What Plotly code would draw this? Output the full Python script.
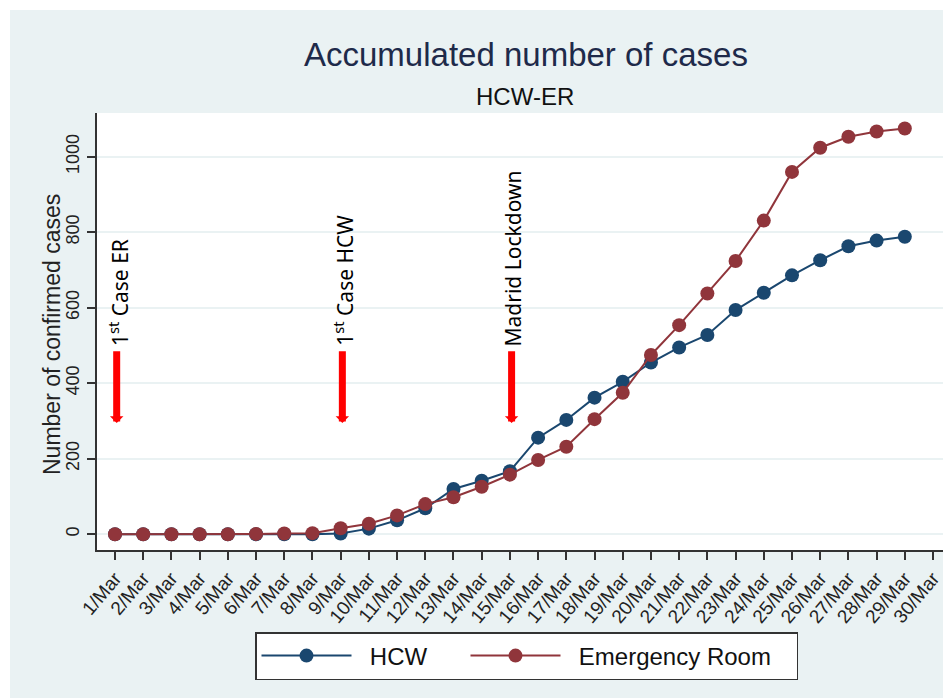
import plotly.graph_objects as go

# ---- data ----
days = list(range(1, 30))
tick_days = list(range(1, 31))
tick_labels = [f"{d}/Mar" for d in tick_days]

hcw = [0, 0, 0, 0, 0, 0, 0, 0, 2, 15, 37, 69, 120, 142, 167, 256, 303, 362,
       404, 455, 495, 528, 594, 640, 686, 726, 763, 778, 788]
er = [0, 0, 0, 0, 0, 1, 2, 3, 16, 28, 50, 80, 98, 126, 158, 197, 232, 305,
      375, 475, 554, 638, 724, 831, 960, 1024, 1053, 1067, 1075]

event_days = [1, 9, 15]
event_labels = ["1<sup>st</sup> Case ER", "1<sup>st</sup> Case HCW", "Madrid Lockdown"]
arrow_tip = 295
arrow_tail = 489
label_base = 493

y_ticks = [0, 200, 400, 600, 800, 1000]

NAVY = "#1a476f"
MAROON = "#90353b"
BG = "#EAF2F3"
NB = "&nbsp;"

# page body has an 8px margin; figure sized to fit the window
OFF = 8
W, H = 951 - OFF, 698 - OFF
ML, MR, MT, MB = 97 - OFF, 5, 113 - OFF, 148
PW = W - ML - MR
PH = H - MT - MB


def px_to_paper_x(px):
    return (px - OFF - ML) / PW


def px_to_paper_y(py):
    return (MT + PH - (py - OFF)) / PH


fig = go.Figure()
fig.add_trace(go.Scatter(
    x=days, y=hcw, mode="lines+markers", name=NB * 2 + "HCW" + NB * 5,
    line=dict(color=NAVY, width=2), marker=dict(color=NAVY, size=14)))
fig.add_trace(go.Scatter(
    x=days, y=er, mode="lines+markers", name=NB * 2 + "Emergency Room" + NB * 3,
    line=dict(color=MAROON, width=2), marker=dict(color=MAROON, size=14)))

annotations = []
for d, lab in zip(event_days, event_labels):
    annotations.append(dict(
        x=d + 0.06, y=arrow_tip, ax=d + 0.06, ay=arrow_tail,
        xref="x", yref="y", axref="x", ayref="y",
        text="", showarrow=True, arrowhead=1, arrowsize=0.32,
        arrowwidth=7, arrowcolor="#ff0000"))
    annotations.append(dict(
        x=d + 0.12, y=label_base, xref="x", yref="y",
        text=lab, showarrow=False, textangle=-90,
        xanchor="center", yanchor="bottom",
        font=dict(family="Noto Sans", size=21, color="black")))

annotations.append(dict(
    x=px_to_paper_x(526), y=px_to_paper_y(55), xref="paper", yref="paper",
    text="Accumulated number of cases", showarrow=False,
    xanchor="center", yanchor="middle",
    font=dict(family="Liberation Sans", size=33, color="#1e2a4a")))
annotations.append(dict(
    x=px_to_paper_x(525), y=px_to_paper_y(96), xref="paper", yref="paper",
    text="HCW-ER", showarrow=False, xanchor="center", yanchor="middle",
    font=dict(family="Liberation Sans", size=24, color="#111111")))
annotations.append(dict(
    x=px_to_paper_x(52), y=px_to_paper_y(335), xref="paper", yref="paper",
    text="Number of confirmed cases", showarrow=False, textangle=-90,
    xanchor="center", yanchor="middle",
    font=dict(family="Liberation Sans", size=23, color="#222222")))

shapes = [
    dict(type="rect", xref="paper", yref="paper",
         x0=px_to_paper_x(0), x1=px_to_paper_x(951),
         y0=px_to_paper_y(10), y1=px_to_paper_y(0),
         fillcolor="white", line=dict(width=0), layer="below"),
    dict(type="rect", xref="paper", yref="paper",
         x0=px_to_paper_x(0), x1=px_to_paper_x(10),
         y0=px_to_paper_y(700), y1=px_to_paper_y(0),
         fillcolor="white", line=dict(width=0), layer="below"),
]

fig.update_layout(
    width=W, height=H,
    margin=dict(l=ML, r=MR, t=MT, b=MB, pad=0),
    paper_bgcolor=BG, plot_bgcolor="white",
    font=dict(family="Liberation Sans", color="#222222"),
    showlegend=True,
    legend=dict(orientation="h", x=px_to_paper_x(255), y=px_to_paper_y(632),
                xanchor="left", yanchor="top",
                bgcolor="white", bordercolor="#333333", borderwidth=1.5,
                font=dict(family="Liberation Sans", size=24, color="#111111"),
                itemwidth=90),
    annotations=annotations,
    shapes=shapes,
    xaxis=dict(range=[0.362, 30.46], tickvals=tick_days, ticktext=tick_labels,
               tickangle=-50, tickfont=dict(size=19, color="#222222"),
               showline=True, linecolor="#333333", linewidth=1.5,
               ticks="outside", ticklen=8, tickwidth=1.5, tickcolor="#333333",
               showgrid=False, zeroline=False),
    yaxis=dict(range=[-41.6, 1116], tickvals=y_ticks, tickangle=-90,
               tickfont=dict(size=18, color="#222222"), ticklabelstandoff=1,
               showline=True, linecolor="#333333", linewidth=1.5,
               ticks="outside", ticklen=8, tickwidth=1.5, tickcolor="#333333",
               showgrid=True, gridcolor=BG, gridwidth=1.5, zeroline=False),
)

fig.write_html("out.html")
